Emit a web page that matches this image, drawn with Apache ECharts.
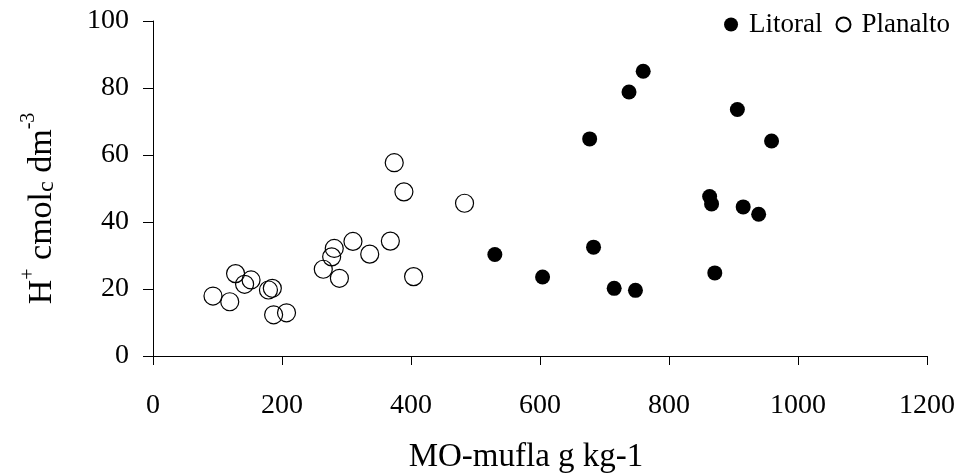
<!DOCTYPE html>
<html>
<head>
<meta charset="utf-8">
<script src="https://cdn.jsdelivr.net/npm/echarts@6/dist/echarts.min.js"></script>
<style>
  html, body { margin: 0; padding: 0; background: #fff; }
  #chart { width: 959px; height: 474px; }
</style>
</head>
<body>
<div id="chart"></div>
<script>
// Litoral (filled) : [MO-mufla, H+]
const litoral = [
  [530, 30.3], [604, 23.6], [677, 64.8], [683, 32.5], [715, 20.2],
  [738, 78.8], [748, 19.6], [760, 85.0], [863, 47.6], [866, 45.4],
  [871, 24.8], [906, 73.6], [915, 44.5], [939, 42.3], [959, 64.2]
];
// Planalto (open)
const planalto = [
  [93, 17.9], [119, 16.2], [128, 24.6], [142, 21.4], [152, 22.7],
  [179, 19.7], [185, 20.2], [187, 12.3], [207, 12.9], [264, 25.9],
  [277, 29.6], [281, 32.1], [289, 23.2], [310, 34.2], [336, 30.4],
  [368, 34.3], [374, 57.7], [389, 49.0], [404, 23.7], [483, 45.6]
];

const serif = '"Liberation Serif", "DejaVu Serif", serif';

let myChart = echarts.init(document.getElementById('chart'));
let option = {
    animation: false,
    backgroundColor: '#fff',
    textStyle: { fontFamily: serif, color: '#000' },
    grid: { left: 153, right: 32, top: 21, bottom: 118, containLabel: false, outerBoundsMode: 'none' },
    legend: {
        right: 4, top: 6,
        itemGap: 13, itemWidth: 26, itemHeight: 14,
        textStyle: { fontFamily: serif, fontSize: 27, color: '#000' },
        data: [
            { name: 'Litoral', icon: 'circle' },
            { name: 'Planalto', icon: 'circle' }
        ]
    },
    xAxis: {
        type: 'value', min: 0, max: 1200, interval: 200,
        name: 'MO-mufla g kg-1', nameLocation: 'middle', nameGap: 85,
        nameTextStyle: { fontFamily: serif, fontSize: 33, color: '#000', padding: [0, 28, 0, 0] },
        axisLine: { show: true, lineStyle: { color: '#000', width: 1 } },
        axisTick: { show: true, inside: false, length: 9, lineStyle: { color: '#000' } },
        axisLabel: { margin: 36, fontFamily: serif, fontSize: 28, color: '#000', formatter: v => String(v) },
        splitLine: { show: false }
    },
    yAxis: {
        type: 'value', min: 0, max: 100, interval: 20,
        name: '{b|H}{s|+}{b| cmol}{c|c}{b| dm}{s|-3}', nameLocation: 'middle', nameGap: 94,
        nameTextStyle: {
            padding: [0, 40, 0, 0],
            rich: {
                b: { fontFamily: serif, fontSize: 34, color: '#000', lineHeight: 40, verticalAlign: 'bottom' },
                s: { fontFamily: serif, fontSize: 20, color: '#000', lineHeight: 40, verticalAlign: 'top' },
                c: { fontFamily: serif, fontSize: 24, color: '#000', lineHeight: 40, verticalAlign: 'bottom' }
            }
        },
        axisLine: { show: true, lineStyle: { color: '#000', width: 1 } },
        axisTick: { show: true, inside: false, length: 10, lineStyle: { color: '#000' } },
        axisLabel: { margin: 24, fontFamily: serif, fontSize: 28, color: '#000' },
        splitLine: { show: false }
    },
    series: [
        {
            name: 'Litoral', type: 'scatter', symbol: 'circle', symbolSize: 15,
            itemStyle: { color: '#000', borderColor: '#000', borderWidth: 0, opacity: 1 },
            data: litoral
        },
        {
            name: 'Planalto', type: 'scatter', symbol: 'circle', symbolSize: 18,
            itemStyle: { color: 'rgba(255,255,255,0)', borderColor: '#000', borderWidth: 1.2, opacity: 1 },
            data: planalto
        }
    ]
};
myChart.setOption(option);
</script>
</body>
</html>
